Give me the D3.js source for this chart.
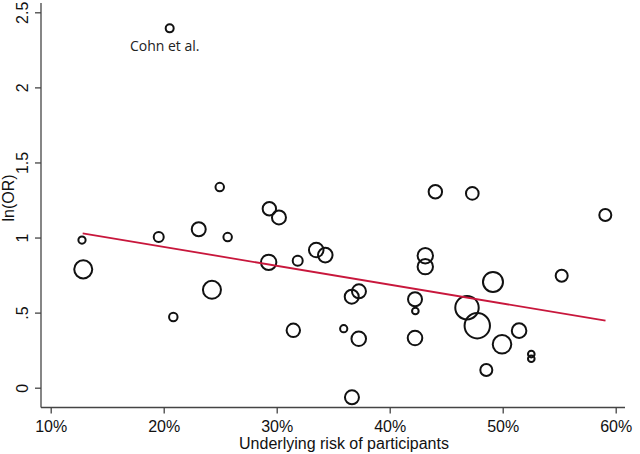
<!DOCTYPE html>
<html><head><meta charset="utf-8">
<script src="https://cdn.jsdelivr.net/npm/d3@7"></script>
<style>
html,body{margin:0;padding:0;background:#fff;}
svg{display:block;font-family:"Liberation Sans",Arial,sans-serif;}
</style></head>
<body><svg id="chart" width="640" height="454"></svg>
<script>
// Underlying risk (%) of each study
const risk = [12.77,12.88,19.56,20.85,23.10,24.27,24.96,25.66,29.35,30.20,29.29,31.47,31.86,33.50,34.30,
  36.64,37.28,35.93,37.26,36.66,44.04,47.31,59.08,43.15,43.15,42.24,42.27,42.24,46.84,47.75,49.14,49.94,
  51.45,52.53,52.53,48.55,55.22,20.53];
// ln(OR) of each study
const lnOR = [0.983,0.788,1.003,0.471,1.055,0.652,1.336,1.003,1.192,1.134,0.835,0.382,0.846,0.917,0.883,
  0.606,0.642,0.393,0.326,-0.064,1.305,1.294,1.150,0.879,0.806,0.589,0.511,0.331,0.533,0.413,0.704,0.289,
  0.380,0.224,0.193,0.118,0.746,2.393];
// study weight (marker area)
const weight = [13,81,25,18,49,81,18,18,45,49,59,45,25,53,53,
  49,49,13,53,49,45,40,36,59,59,49,11,53,137,161,100,86,
  53,11,11,36,36,16];
const labelStudy = {index: 37, text: "Cohn et al."};
// fitted regression line endpoints
const fitX = [12.83, 59.1];
const fitY = [1.028, 0.446];
const xTicks = [10,20,30,40,50,60];
const yTicks = [0,0.5,1,1.5,2,2.5];
const yTickLabels = ["0",".5","1","1.5","2","2.5"];
const xTitle = "Underlying risk of participants";
const yTitle = "ln(OR)";

const svg = d3.select("#chart");
const x = d3.scaleLinear().domain([10,60]).range([50.7,615.7]);
const y = d3.scaleLinear().domain([0,2.5]).range([387.7,12.3]);
const r = d3.scaleSqrt().domain([0, d3.max(weight)]).range([0, 12.7]);

const axisColor = "#444";
const axisX0 = 41, axisY0 = 407.5;

// axis lines
svg.append("line").attr("x1",axisX0).attr("x2",625).attr("y1",axisY0).attr("y2",axisY0)
  .attr("stroke",axisColor).attr("stroke-width",1.3);
svg.append("line").attr("x1",axisX0).attr("x2",axisX0).attr("y1",3).attr("y2",axisY0)
  .attr("stroke",axisColor).attr("stroke-width",1.3);

// x axis
const gx = svg.append("g").attr("transform",`translate(0,${axisY0})`)
  .call(d3.axisBottom(x).tickValues(xTicks).tickFormat(d=>d+"%").tickSize(6).tickPadding(7).tickSizeOuter(0));
gx.select(".domain").remove();
gx.selectAll(".tick line").attr("stroke",axisColor).attr("stroke-width",1.3);
gx.selectAll(".tick text").attr("font-size",16).attr("fill","#111").attr("font-family","Liberation Sans, Arial, sans-serif");

// y axis
const gy = svg.append("g").attr("transform",`translate(${axisX0},0)`)
  .call(d3.axisLeft(y).tickValues(yTicks).tickFormat((d,i)=>yTickLabels[i]).tickSize(6).tickSizeOuter(0));
gy.select(".domain").remove();
gy.selectAll(".tick line").attr("stroke",axisColor).attr("stroke-width",1.3);
gy.selectAll(".tick text").attr("font-size",16).attr("fill","#111")
  .attr("font-family","Liberation Sans, Arial, sans-serif")
  .attr("x",0).attr("dy",0)
  .attr("text-anchor","middle")
  .attr("transform","translate(-19,0) rotate(-90)")
  .attr("dominant-baseline","central");

// titles
svg.append("text").attr("x",344).attr("y",449).attr("text-anchor","middle")
  .attr("font-size",16).attr("fill","#111").text(xTitle);
svg.append("text").attr("transform","translate(8,198) rotate(-90)").attr("text-anchor","middle")
  .attr("dominant-baseline","central").attr("font-size",16).attr("fill","#111").text(yTitle);

// circles
svg.append("g").selectAll("circle").data(risk).join("circle")
  .attr("cx",(d)=>x(d)).attr("cy",(d,i)=>y(lnOR[i])).attr("r",(d,i)=>r(weight[i]))
  .attr("fill","none").attr("stroke","#111").attr("stroke-width",2);

// regression line
svg.append("line").attr("x1",x(fitX[0])).attr("y1",y(fitY[0])).attr("x2",x(fitX[1])).attr("y2",y(fitY[1]))
  .attr("stroke","#c8173c").attr("stroke-width",1.8);

// label
svg.append("text").attr("x",x(risk[labelStudy.index])-5).attr("y",y(lnOR[labelStudy.index])+23)
  .attr("text-anchor","middle").attr("font-size",14).attr("fill","#222")
  .attr("font-family","'Open Sans', 'Liberation Sans', sans-serif").text(labelStudy.text);
</script></body></html>
